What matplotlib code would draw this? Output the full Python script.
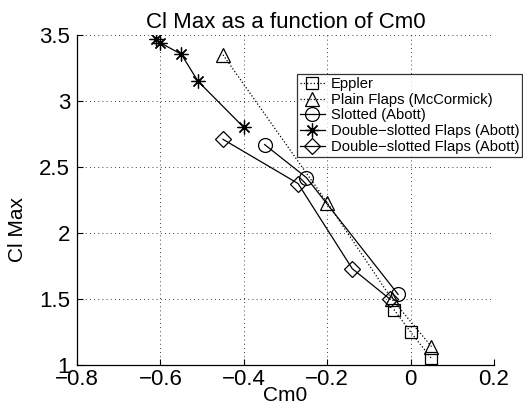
import matplotlib
matplotlib.use("Agg")
import matplotlib.pyplot as plt

plt.rcParams['font.family'] = ['Liberation Sans', 'DejaVu Sans']

eppler_x = [-0.04, 0.0, 0.05]
eppler_y = [1.42, 1.25, 1.05]

plain_x = [-0.45, -0.20, -0.045, 0.05]
plain_y = [3.35, 2.23, 1.50, 1.14]

slotted_x = [-0.35, -0.25, -0.03]
slotted_y = [2.67, 2.42, 1.535]

dslot1_x = [-0.61, -0.60, -0.55, -0.51, -0.40]
dslot1_y = [3.47, 3.44, 3.355, 3.15, 2.80]

dslot2_x = [-0.45, -0.27, -0.14, -0.05]
dslot2_y = [2.71, 2.375, 1.73, 1.50]

labels = ['Eppler', 'Plain Flaps (McCormick)', 'Slotted (Abott)',
          'Double\u2212slotted Flaps (Abott)', 'Double\u2212slotted Flaps (Abott)']

fig = plt.figure(figsize=(5.23, 4.12), dpi=100)
ax = fig.add_axes([77/523, 1-365/412, 417/523, 330/412])

lw = 0.9
ax.plot(eppler_x, eppler_y, ':', color='k', lw=lw, marker='s', ms=8.5, mfc='none', mew=lw, label=labels[0])
ax.plot(plain_x, plain_y, ':', color='k', lw=lw, marker='^', ms=10, mfc='none', mew=lw, label=labels[1])
ax.plot(slotted_x, slotted_y, '-', color='k', lw=lw, marker='o', ms=10, mfc='none', mew=lw, label=labels[2])
ax.plot(dslot1_x, dslot1_y, '-', color='k', lw=lw, marker=(8, 2, 0), ms=10, mfc='none', mew=lw, label=labels[3])
ax.plot(dslot2_x, dslot2_y, '-', color='k', lw=lw, marker='D', ms=8.5, mfc='none', mew=lw, label=labels[4])

ax.set_xlim(-0.8, 0.2)
ax.set_ylim(1, 3.5)
ax.set_xticks([-0.8, -0.6, -0.4, -0.2, 0, 0.2])
ax.set_xticklabels(['\u22120.8', '\u22120.6', '\u22120.4', '\u22120.2', '0', '0.2'])
ax.set_yticks([1, 1.5, 2, 2.5, 3, 3.5])
ax.set_yticklabels(['1', '1.5', '2', '2.5', '3', '3.5'])
ax.tick_params(direction='in', length=4, labelsize=16, width=0.8)
ax.tick_params(axis='x', pad=3)
ax.tick_params(axis='y', pad=5)
ax.grid(True, color='k', linestyle=(0, (1, 4)), linewidth=0.6)
ax.spines['top'].set_visible(False)
ax.spines['right'].set_visible(False)
ax.spines['left'].set_linewidth(0.9)
ax.spines['bottom'].set_linewidth(0.9)

ax.set_title('Cl Max as a function of Cm0', fontsize=16, pad=5)
ax.set_xlabel('Cm0', fontsize=15, labelpad=-3)
ax.set_ylabel('Cl Max', fontsize=15)
ax.yaxis.set_label_coords(-0.12, 0.41)

leg = fig.legend(loc='upper left', bbox_to_anchor=(297/523, 1-74/412), fontsize=10.6,
                 frameon=True, fancybox=False, edgecolor='k', handlelength=1.7,
                 handletextpad=0.4, borderpad=0.2, labelspacing=0.12, borderaxespad=0)
leg.get_frame().set_linewidth(0.9)

fig.savefig('out.png', dpi=100)
